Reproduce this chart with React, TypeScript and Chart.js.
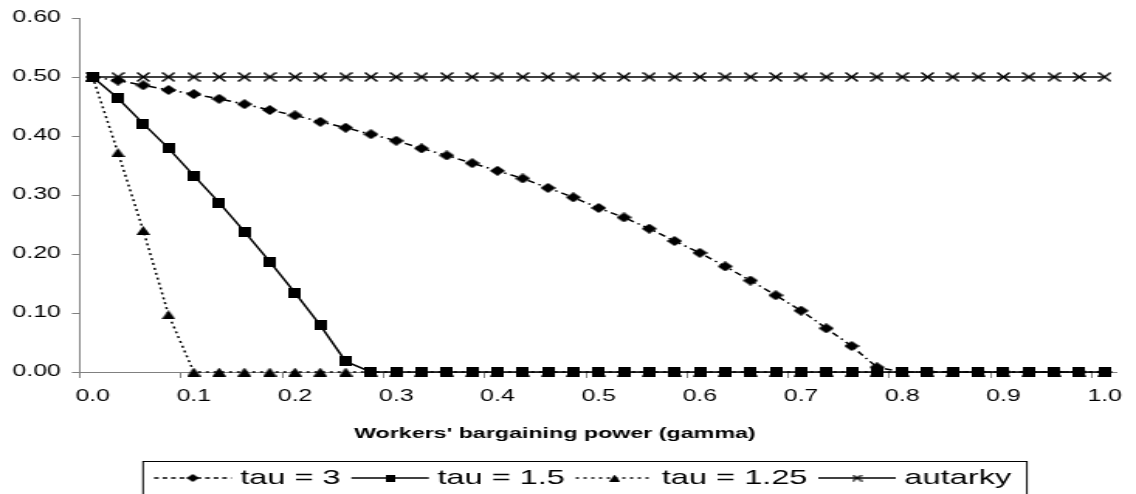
import React, { useEffect, useRef } from 'react';
import { Chart, registerables } from 'chart.js';

Chart.register(...registerables);

// ---------- data ----------
const gammaValues = [
  0.0, 0.025, 0.05, 0.075, 0.1, 0.125, 0.15, 0.175, 0.2, 0.225,
  0.25, 0.275, 0.3, 0.325, 0.35, 0.375, 0.4, 0.425, 0.45, 0.475,
  0.5, 0.525, 0.55, 0.575, 0.6, 0.625, 0.65, 0.675, 0.7, 0.725,
  0.75, 0.775, 0.8, 0.825, 0.85, 0.875, 0.9, 0.925, 0.95, 0.975, 1.0,
];

const xTickLabels = ['0.0', '0.1', '0.2', '0.3', '0.4', '0.5', '0.6', '0.7', '0.8', '0.9', '1.0'];

const tau3 = [
  0.5, 0.494, 0.486, 0.478, 0.471, 0.463, 0.454, 0.444, 0.435, 0.424,
  0.414, 0.403, 0.392, 0.379, 0.367, 0.354, 0.341, 0.328, 0.312, 0.296,
  0.278, 0.262, 0.243, 0.222, 0.202, 0.179, 0.155, 0.13, 0.104, 0.074,
  0.044, 0.008, 0, 0, 0, 0, 0, 0, 0, 0, 0,
];

const tau15 = [
  0.5, 0.464, 0.421, 0.379, 0.333, 0.287, 0.238, 0.187, 0.134, 0.079,
  0.018, 0, 0, 0, 0, 0, 0, 0, 0, 0,
  0, 0, 0, 0, 0, 0, 0, 0, 0, 0,
  0, 0, 0, 0, 0, 0, 0, 0, 0, 0, 0,
];

const tau125 = [
  0.5, 0.372, 0.24, 0.097, 0, 0, 0, 0, 0, 0,
  0, 0, 0, 0, 0, 0, 0, 0, 0, 0,
  0, 0, 0, 0, 0, 0, 0, 0, 0, 0,
  0, 0, 0, 0, 0, 0, 0, 0, 0, 0, 0,
];

const autarky = [
  0.5, 0.5, 0.5, 0.5, 0.5, 0.5, 0.5, 0.5, 0.5, 0.5,
  0.5, 0.5, 0.5, 0.5, 0.5, 0.5, 0.5, 0.5, 0.5, 0.5,
  0.5, 0.5, 0.5, 0.5, 0.5, 0.5, 0.5, 0.5, 0.5, 0.5,
  0.5, 0.5, 0.5, 0.5, 0.5, 0.5, 0.5, 0.5, 0.5, 0.5, 0.5,
];

const seriesLabels = ['tau = 3', 'tau = 1.5', 'tau = 1.25', 'autarky'];
const xAxisTitle = "Workers' bargaining power (gamma)";
const yMin = 0;
const yMax = 0.6;
const yStep = 0.1;

// ---------- layout (logical px, canvas is stretched horizontally) ----------
const TOTAL_W = 1136;
const TOTAL_H = 494;
const LOGICAL_W = 733;
const STRETCH = TOTAL_W / LOGICAL_W;
const FONT = '"Liberation Sans", Arial, sans-serif';

function makeMarker(shape: string, w: number, h: number, lw = 1.5): HTMLCanvasElement {
  const c = document.createElement('canvas');
  c.width = w;
  c.height = h;
  const g = c.getContext('2d') as CanvasRenderingContext2D;
  g.fillStyle = '#000';
  g.strokeStyle = '#000';
  if (shape === 'square') {
    g.fillRect(0, 0, w, h);
  } else if (shape === 'diamond') {
    g.beginPath();
    g.moveTo(w / 2, 0);
    g.lineTo(w, h / 2);
    g.lineTo(w / 2, h);
    g.lineTo(0, h / 2);
    g.closePath();
    g.fill();
  } else if (shape === 'triangle') {
    g.beginPath();
    g.moveTo(w / 2, 0);
    g.lineTo(w, h);
    g.lineTo(0, h);
    g.closePath();
    g.fill();
  } else {
    g.lineWidth = lw;
    g.beginPath();
    g.moveTo(0.5, 0.5);
    g.lineTo(w - 0.5, h - 0.5);
    g.moveTo(w - 0.5, 0.5);
    g.lineTo(0.5, h - 0.5);
    g.stroke();
  }
  return c;
}

export default function App() {
  const canvasRef = useRef<HTMLCanvasElement | null>(null);

  useEffect(() => {
    document.body.style.margin = '0';
    const canvas = canvasRef.current;
    if (!canvas) return;

    const markers = {
      diamond: makeMarker('diamond', 10, 10),
      square: makeMarker('square', 8, 10),
      triangle: makeMarker('triangle', 9, 9),
      cross: makeMarker('cross', 9, 10, 1.5),
    };
    const legendMarkers = [
      makeMarker('diamond', 8, 8),
      makeMarker('square', 6, 7),
      makeMarker('triangle', 7, 7),
      makeMarker('cross', 7, 7, 1.3),
    ];

    const dashes = [[5, 3, 1.5, 3], [], [2, 3], []];

    const legendPlugin = {
      id: 'customLegendAndTitle',
      afterDraw(chart: any) {
        const ctx = chart.ctx as CanvasRenderingContext2D;
        ctx.save();
        // axis title
        ctx.fillStyle = '#000';
        ctx.font = `bold 15px ${FONT}`;
        ctx.textAlign = 'center';
        ctx.textBaseline = 'middle';
        ctx.fillText(xAxisTitle, 358, 434);

        // legend box
        const boxLeft = 92.3;
        const boxRight = 662.6;
        const boxTop = 461.5;
        ctx.strokeStyle = '#000';
        ctx.lineWidth = 1;
        ctx.strokeRect(boxLeft, boxTop, boxRight - boxLeft, 40);

        ctx.font = `21px ${FONT}`;
        ctx.textAlign = 'left';
        let x = 99.4;
        const cy = 478;
        chart.data.datasets.forEach((ds: any, i: number) => {
          const sw = 50;
          ctx.beginPath();
          ctx.setLineDash(i === 0 ? [3, 2.5] : dashes[i]);
          ctx.lineWidth = 1.3;
          ctx.strokeStyle = '#000';
          ctx.moveTo(x, cy);
          ctx.lineTo(x + sw, cy);
          ctx.stroke();
          ctx.setLineDash([]);
          const img = legendMarkers[i];
          ctx.drawImage(img, x + sw / 2 - img.width / 2, cy - img.height / 2);
          x += sw + 5.5;
          ctx.fillText(ds.label, x, cy);
          x += ctx.measureText(ds.label).width + 7;
        });
        ctx.restore();
      },
    };

    const common = {
      borderColor: '#000',
      backgroundColor: '#000',
      borderWidth: 1.5,
      pointRadius: 4,
      pointHoverRadius: 4,
      tension: 0,
      fill: false,
      clip: false as const,
    };

    const chart = new Chart(canvas, {
      type: 'line',
      data: {
        labels: gammaValues.map((v) => String(v)),
        datasets: [
          { ...common, label: seriesLabels[0], data: tau3, borderDash: dashes[0], pointStyle: markers.diamond as any },
          { ...common, label: seriesLabels[1], data: tau15, borderDash: dashes[1], pointStyle: markers.square as any },
          { ...common, label: seriesLabels[2], data: tau125, borderDash: dashes[2], pointStyle: markers.triangle as any },
          { ...common, label: seriesLabels[3], data: autarky, borderDash: dashes[3], pointStyle: markers.cross as any },
        ],
      },
      options: {
        animation: false,
        responsive: false,
        events: [],
        layout: { padding: { top: 18, right: LOGICAL_W - 723.2, bottom: 42, left: 0 } },
        plugins: {
          legend: { display: false },
          tooltip: { enabled: false },
          title: { display: false },
        },
        scales: {
          x: {
            type: 'category',
            offset: true,
            afterFit: (scale: any) => {
              scale.height = 80;
            },
            grid: {
              offset: true,
              drawOnChartArea: false,
              drawTicks: true,
              tickLength: 6,
              lineWidth: 1,
              color: (ctx: any) => (ctx.index % 4 === 0 ? '#808080' : 'rgba(0,0,0,0)'),
            },
            border: { display: true, color: '#808080', width: 1 },
            ticks: {
              autoSkip: false,
              maxRotation: 0,
              minRotation: 0,
              padding: 9,
              color: '#000',
              font: { family: FONT, size: 16 },
              callback: (_v: any, idx: number) => (idx % 4 === 0 ? xTickLabels[idx / 4] : ''),
            },
          },
          y: {
            min: yMin,
            max: yMax,
            afterFit: (scale: any) => {
              scale.width = 51.6;
            },
            grid: {
              drawOnChartArea: false,
              drawTicks: true,
              tickLength: 5.2,
              color: '#808080',
            },
            border: { display: true, color: '#808080', width: 1 },
            ticks: {
              stepSize: yStep,
              padding: 7.2,
              color: '#000',
              font: { family: FONT, size: 16 },
              callback: (v: any) => Number(v).toFixed(2),
            },
          },
        },
      },
      plugins: [legendPlugin],
    });

    return () => {
      chart.destroy();
    };
  }, []);

  return (
    <div style={{ width: TOTAL_W, height: TOTAL_H, overflow: 'hidden', background: '#fff' }}>
      <div
        style={{
          width: LOGICAL_W,
          height: TOTAL_H,
          transform: `scaleX(${STRETCH})`,
          transformOrigin: '0 0',
        }}
      >
        <canvas ref={canvasRef} width={LOGICAL_W} height={TOTAL_H} />
      </div>
    </div>
  );
}
